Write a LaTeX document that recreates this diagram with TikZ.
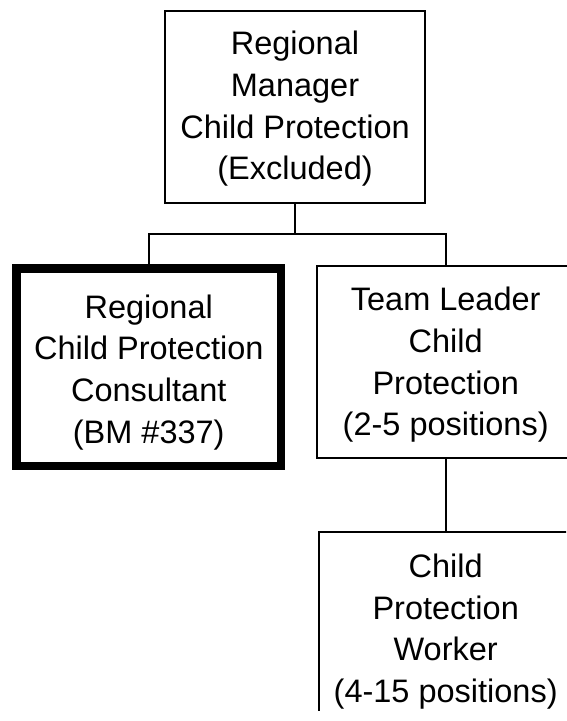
\documentclass[tikz,border=0pt]{standalone}
\usepackage{fontspec}
\setmainfont{Liberation Sans}
\begin{document}
\begin{tikzpicture}[x=1pt,y=-1pt,
  box/.style={draw, line width=2.2pt, inner sep=0pt, outer sep=0pt},
  thickbox/.style={box, line width=8.5pt},
  txt/.style={inner sep=0pt, align=center, font=\fontsize{32.5}{41.7}\selectfont},
  conn/.style={line width=2.2pt}]
\useasboundingbox (0,0) rectangle (566,721);
\node[box, minimum width=260pt, minimum height=191.7pt] (mgr) at (295,106.85) {};
\node[txt, yshift=-2pt] (mgrt) at (mgr.center)
  {Regional\\Manager\\Child Protection\\(Excluded)};
\node[thickbox, minimum width=264.5pt, minimum height=197.5pt] (cons) at (148.75,367.25) {};
\node[txt, yshift=-5pt] (const) at (cons.center)
  {Regional\\Child Protection\\Consultant\\(BM \#337)};
\node[box, minimum width=257.4pt, minimum height=192.3pt] (tl) at (445.7,361.9) {};
\node[txt, yshift=-3pt] (tlt) at (tl.center)
  {Team Leader\\Child\\Protection\\(2-5 positions)};
\begin{scope}
  \clip (0,0) rectangle (566,710);
  \node[box, minimum width=253.4pt, minimum height=192pt] (wkr) at (445.7,627.7) {};
\end{scope}
\node[txt, yshift=-4pt] (wkrt) at (wkr.center)
  {Child\\Protection\\Worker\\(4-15 positions)};
\coordinate (bus) at (295,234);
\draw[conn] (mgr.south) -- (bus);
\draw[conn] (cons.north) |- (bus) -| (tl.north);
\draw[conn] (tl.south) -- (wkr.north);
\end{tikzpicture}
\end{document}
